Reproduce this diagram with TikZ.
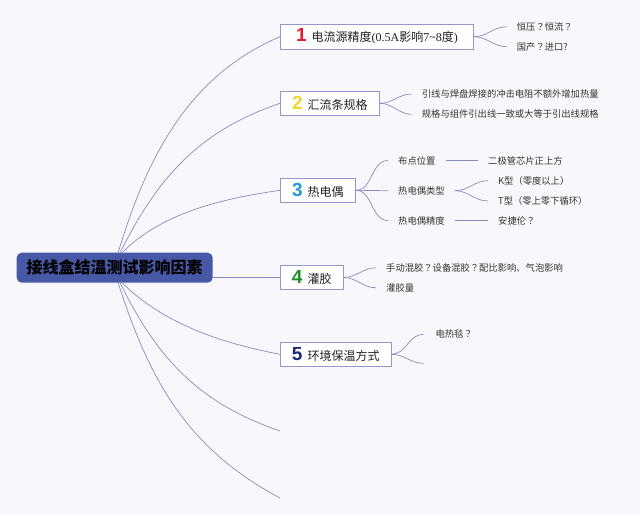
\documentclass[tikz,border=0pt]{standalone}
\usepackage{fontspec}
\setmainfont{Noto Sans CJK SC}
\newfontfamily\numf{Liberation Sans}[Scale=1]
\newfontfamily\latinf{Liberation Serif}
\newfontfamily\jpf{Noto Sans CJK JP}
\newcommand{\fq}{{\jpf ？}}
\usetikzlibrary{calc}
\definecolor{bgc}{RGB}{248,248,252}
\definecolor{linec}{RGB}{138,138,192}
\definecolor{boxc}{RGB}{150,150,204}
\definecolor{rootc}{RGB}{70,88,166}
\definecolor{txtc}{RGB}{34,34,34}
\definecolor{itemc}{RGB}{51,51,51}
\definecolor{cone}{RGB}{226,30,44}
\definecolor{ctwo}{RGB}{240,214,50}
\definecolor{cthree}{RGB}{40,152,214}
\definecolor{cfour}{RGB}{30,142,44}
\definecolor{cfive}{RGB}{28,40,126}
\begin{document}
\begin{tikzpicture}[x=1pt,y=-1pt,
  conn/.style={draw=linec,line width=0.7pt},
  rootbox/.style={fill=rootc,rounded corners=5pt,minimum width=196pt,minimum height=30pt,inner sep=0pt,
    text=black,font=\fontsize{16pt}{18pt}\selectfont\bfseries},
  topic/.style={draw=boxc,line width=0.8pt,fill=white,anchor=west,minimum height=24.5pt,inner xsep=6pt,inner ysep=0pt,
    text=txtc,font=\fontsize{12pt}{14pt}\selectfont},
  item/.style={anchor=west,inner xsep=10pt,inner ysep=2pt,text=itemc,font=\fontsize{9.3pt}{11pt}\selectfont}
]
\fill[bgc] (0,0) rectangle (640,515);
\useasboundingbox (0,0) rectangle (640,515);

% root
\node[rootbox] (root) at (114.7,267.7) {接线盒结温测试影响因素};

% topics
\node[topic,minimum width=193pt] (b1) at (280,36.7) {{\fontsize{19pt}{20pt}\selectfont\numf\bfseries\color{cone}1}\hspace{5pt}电流源精度{\latinf(0.5A}影响{\latinf 7\textasciitilde8}度{\latinf)}};
\node[topic,minimum width=99pt] (b2) at (280,103.3) {{\fontsize{19pt}{20pt}\selectfont\numf\bfseries\color{ctwo}2}\hspace{5pt}汇流条规格};
\node[topic,minimum width=75pt] (b3) at (280,190.3) {{\fontsize{19pt}{20pt}\selectfont\numf\bfseries\color{cthree}3}\hspace{5pt}热电偶};
\node[topic,minimum width=62.7pt] (b4) at (280,277.5) {{\fontsize{19pt}{20pt}\selectfont\numf\bfseries\color{cfour}4}\hspace{5pt}灌胶};
\node[topic,minimum width=110.7pt] (b5) at (280,354.3) {{\fontsize{19pt}{20pt}\selectfont\numf\bfseries\color{cfive}5}\hspace{5pt}环境保温方式};
\coordinate (e6) at (280,431);
\coordinate (e7) at (280,498);

% main connectors
\coordinate (rt) at ($(root.north)+(3.5,0)$);
\coordinate (rb) at ($(root.south)+(3.5,0)$);
\draw[conn] (rt) .. controls (147,157) and (188,76) .. (b1.west);
\draw[conn] ($(rt)+(2,0)$) .. controls (158,177) and (199,131) .. (b2.west);
\draw[conn] ($(rt)+(4,0)$) .. controls (162,213) and (220,199) .. (b3.west);
\draw[conn] (root.east |- b4.west) -- (b4.west);
\draw[conn] ($(rb)+(4,0)$) .. controls (164,324) and (221,343) .. (b5.west);
\draw[conn] ($(rb)+(2,0)$) .. controls (160,365) and (205,405) .. (e6);
\draw[conn] (rb) .. controls (150,382) and (188,449) .. (e7);

% items of 1
\node[item] (i11) at (506.7,26.7) {恒压\fq 恒流\fq};
\node[item] (i12) at (506.7,46.7) {国产\fq 进口?};
\draw[conn] (b1.east) to[out=0,in=180] (i11.west);
\draw[conn] (b1.east) to[out=0,in=180] (i12.west);

% items of 2
\node[item] (i21) at (411.7,94) {引线与焊盘焊接的冲击电阻不额外增加热量};
\node[item] (i22) at (411.7,114.3) {规格与组件引出线一致或大等于引出线规格};
\draw[conn] (b2.east) to[out=0,in=180] (i21.west);
\draw[conn] (b2.east) to[out=0,in=180] (i22.west);

% items of 3
\node[item] (i31) at (388,160.5) {布点位置};
\node[item] (i32) at (388,190.7) {热电偶类型};
\node[item] (i33) at (388,220.5) {热电偶精度};
\draw[conn] (b3.east) to[out=0,in=180] (i31.west);
\draw[conn] (b3.east) -- (i32.west);
\draw[conn] (b3.east) to[out=0,in=180] (i33.west);
\node[item] (i311) at (478,160.5) {二极管芯片正上方};
\draw[conn] (i31.east) -- (i311.west);
\node[item] (i321) at (488,180.7) {K型（零度以上）};
\node[item] (i322) at (488,201) {T型（零上零下循环）};
\draw[conn] (i32.east) to[out=0,in=180] (i321.west);
\draw[conn] (i32.east) to[out=0,in=180] (i322.west);
\node[item] (i331) at (488,220.5) {安捷伦\fq};
\draw[conn] (i33.east) -- (i331.west);

% items of 4
\node[item] (i41) at (376,267.8) {手动混胶\fq 设备混胶\fq 配比影响、气泡影响};
\node[item] (i42) at (376,287.8) {灌胶量};
\draw[conn] (b4.east) to[out=0,in=180] (i41.west);
\draw[conn] (b4.east) to[out=0,in=180] (i42.west);

% items of 5
\node[item,inner xsep=12pt] (i51) at (423.3,334.3) {电热毯\fq};
\coordinate (e52) at (423.3,363.3);
\draw[conn] (b5.east) to[out=0,in=180] (i51.west);
\draw[conn] (b5.east) to[out=0,in=180] (e52);
\end{tikzpicture}
\end{document}
